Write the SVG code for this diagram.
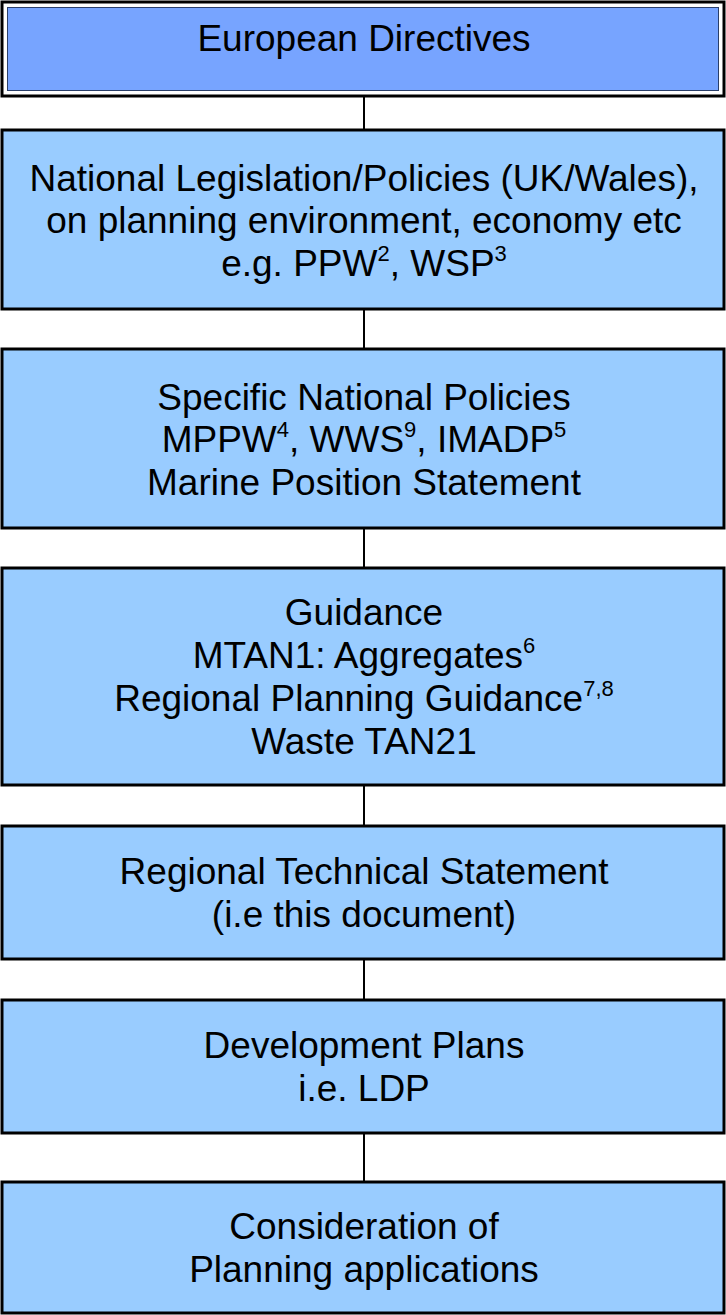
<svg xmlns="http://www.w3.org/2000/svg" width="726" height="1315" viewBox="0 0 726 1315">
<style>
.box{fill:#99ccff;stroke:#000;stroke-width:3}
.t{font-family:"Liberation Sans",Arial,sans-serif;font-size:37px;fill:#000;text-anchor:middle}
.sup{font-size:22px}
.c{stroke:#000;stroke-width:2;fill:none}
</style>
<rect width="726" height="1315" fill="#fff"/>
<g id="connectors">
<line class="c" x1="364" y1="96" x2="364" y2="130"/>
<line class="c" x1="364" y1="309" x2="364" y2="349"/>
<line class="c" x1="364" y1="528" x2="364" y2="568"/>
<line class="c" x1="364" y1="785" x2="364" y2="826"/>
<line class="c" x1="364" y1="959" x2="364" y2="1000"/>
<line class="c" x1="364" y1="1133" x2="364" y2="1182"/>
</g>
<g id="n1">
<rect x="2" y="2" width="722" height="94" fill="#fff" stroke="#000" stroke-width="3"/>
<rect x="7.5" y="7.5" width="711" height="83" fill="#77a4ff" stroke="#2a3f6a" stroke-width="1"/>
<text class="t" x="364" y="51">European Directives</text>
</g>
<g id="n2">
<rect class="box" x="2" y="130" width="722" height="179"/>
<text class="t" x="364" y="191">National Legislation/Policies (UK/Wales),</text>
<text class="t" x="364" y="233">on planning environment, economy etc</text>
<text class="t" x="364" y="276">e.g. PPW<tspan class="sup" dy="-15">2</tspan><tspan dy="15">, WSP</tspan><tspan class="sup" dy="-15">3</tspan></text>
</g>
<g id="n3">
<rect class="box" x="2" y="349" width="722" height="179"/>
<text class="t" x="364" y="410">Specific National Policies</text>
<text class="t" x="364" y="452">MPPW<tspan class="sup" dy="-15">4</tspan><tspan dy="15">, WWS</tspan><tspan class="sup" dy="-15">9</tspan><tspan dy="15">, IMADP</tspan><tspan class="sup" dy="-15">5</tspan></text>
<text class="t" x="364" y="495">Marine Position Statement</text>
</g>
<g id="n4">
<rect class="box" x="2" y="568" width="722" height="217"/>
<text class="t" x="364" y="625">Guidance</text>
<text class="t" x="364" y="668">MTAN1: Aggregates<tspan class="sup" dy="-15">6</tspan></text>
<text class="t" x="364" y="711">Regional Planning Guidance<tspan class="sup" dy="-15">7,8</tspan></text>
<text class="t" x="364" y="754">Waste TAN21</text>
</g>
<g id="n5">
<rect class="box" x="2" y="826" width="722" height="133"/>
<text class="t" x="364" y="884">Regional Technical Statement</text>
<text class="t" x="364" y="927">(i.e this document)</text>
</g>
<g id="n6">
<rect class="box" x="2" y="1000" width="722" height="133"/>
<text class="t" x="364" y="1058">Development Plans</text>
<text class="t" x="364" y="1101">i.e. LDP</text>
</g>
<g id="n7">
<rect class="box" x="2" y="1182" width="722" height="131"/>
<text class="t" x="364" y="1239">Consideration of</text>
<text class="t" x="364" y="1282">Planning applications</text>
</g>
</svg>
